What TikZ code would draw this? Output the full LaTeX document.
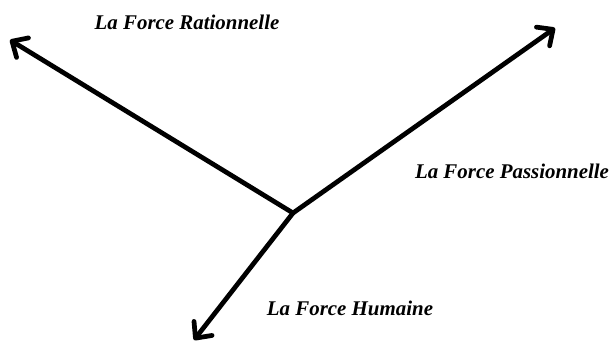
\documentclass[tikz,border=0pt]{standalone}
\usepackage{fontspec}
\setmainfont{Liberation Serif}
\usetikzlibrary{arrows.meta, positioning}

\begin{document}
\begin{tikzpicture}[
    x=0.02cm, y=-0.02cm,
    label/.style={font=\fontsize{11.9}{14}\selectfont\bfseries\itshape, inner sep=0pt},
    arrow/.style={line width=2.7pt, line cap=round, -{Straight Barb[length=7pt, width=13pt, round]}}
  ]
    \useasboundingbox (0,0) rectangle (610,343);
    % Nodes
    \coordinate (hub) at (293,213);
    \coordinate (ratio) at (10,40);
    \coordinate (passion) at (555,28);
    \coordinate (humain) at (194,340);

    \node (lratio) [label] at (187,22) {La Force Rationnelle};
    \node (lpassion) [label] at (512,171) {La Force Passionnelle};
    \node (lhumain) [label] at (350,308) {La Force Humaine};

    % Connections
    \draw [arrow] (hub) -- (ratio);
    \draw [arrow] (hub) -- (passion);
    \draw [arrow] (hub) -- (humain);
\end{tikzpicture}
\end{document}
